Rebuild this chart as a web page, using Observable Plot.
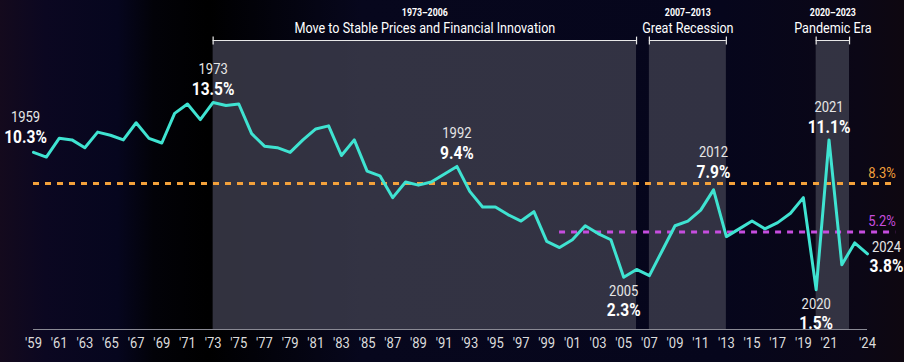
<!DOCTYPE html>
<html>
<head>
<meta charset="utf-8">
<script src="https://cdn.jsdelivr.net/npm/d3@7"></script>
<script src="https://cdn.jsdelivr.net/npm/@observablehq/plot@0.6"></script>
<style>
  html, body { margin: 0; padding: 0; background: #07061a; }
  #chart svg { display: block; }
</style>
</head>
<body>
<div id="chart"></div>
<script>
// ---- data ----
const years = d3.range(1959, 2025);
const savingRate = [
  10.3, 10.0, 11.2, 11.1, 10.6, 11.6, 11.4, 11.1, 12.2, 11.2,
  10.9, 12.8, 13.4, 12.4, 13.5, 13.3, 13.4, 11.5, 10.7, 10.6,
  10.3, 11.1, 11.8, 12.0, 10.1, 11.1, 9.1, 8.8, 7.4, 8.4,
  8.2, 8.4, 8.9, 9.4, 7.8, 6.8, 6.8, 6.3, 5.9, 6.5,
  4.6, 4.2, 4.7, 5.6, 5.1, 4.7, 2.3, 2.8, 2.4, 4.0,
  5.6, 5.9, 6.6, 7.9, 4.9, 5.4, 5.9, 5.4, 5.8, 6.4,
  7.4, 1.5, 11.1, 3.1, 4.5, 3.8
];

const periodStart = [1973, 2007, 2020];
const periodEnd = [2006, 2013, 2022.6];
const periodRange = ["1973–2006", "2007–2013", "2020–2023"];
const periodName = ["Move to Stable Prices and Financial Innovation", "Great Recession", "Pandemic Era"];

const avgValue = [8.3, 5.2];
const avgFrom = [1959, 2000];
const avgLabel = ["8.3%", "5.2%"];

const tickYears = [...d3.range(1959, 2022, 2), 2024];
const tickLabel = tickYears.map(y => "'" + String(y).slice(2));

const annAbove = [1973, 1992, 2021];
const annAboveHigh = [2012];
const annLeft = [1959];
const annBelow = [2005, 2020];
const annRight = [2024];

// ---- derived tables ----
const series = years.map((y, i) => ({year: y, value: savingRate[i]}));
const periods = periodStart.map((s, i) => ({start: s, end: periodEnd[i], range: periodRange[i], name: periodName[i]}));
const avgs = avgValue.map((v, i) => ({value: v, from: avgFrom[i], label: avgLabel[i]}));
const lookup = ys => ys.map(y => ({year: y, value: savingRate[years.indexOf(y)]}));

const yMin = -1.05, yMax = 17.47, xLineEnd = 2026.2;
const font = "'Roboto', 'Liberation Sans', sans-serif";
const condense = 0.84;

const avgColors = ["#f3a13b", "#c64ddf"];

const bracketTick = {draw(ctx, size) { const r = Math.sqrt(size); ctx.moveTo(0, -r); ctx.lineTo(0, r); }};

function annotate(data, dx, dyYear, dyVal) {
  return [
    Plot.text(data, {x: "year", y: "value", text: d => String(d.year), dx, dy: dyYear,
      fill: "#e6e6e6", fontSize: 15.5, fontWeight: 400}),
    Plot.text(data, {x: "year", y: "value", text: d => d.value.toFixed(1) + "%", dx, dy: dyVal,
      fill: "#ffffff", fontSize: 18.5, fontWeight: 700})
  ];
}

const chart = Plot.plot({
  width: 904,
  height: 362,
  marginLeft: 33,
  marginRight: 37,
  marginTop: 40,
  marginBottom: 33,
  style: {
    fontFamily: font,
    background: "linear-gradient(90deg, #140a1d 0%, #0b0721 5%, #06061e 13%, #020208 17%, #000 23%, #07071d 40%, #06061c 80%, #0b0716 95%, #0e0710 100%)",
    color: "#e0e0e0",
    overflow: "visible"
  },
  x: {domain: [1959, 2024], axis: null},
  y: {domain: [yMin, yMax], axis: null},
  marks: [
    Plot.rect(periods, {x1: "start", x2: "end", fill: "#3b3b4a", fillOpacity: 0.85}),
    Plot.ruleY(periods, {x1: "start", x2: "end", y: () => yMax, stroke: "#e8e8e8", strokeWidth: 1.2}),
    Plot.dot(periods.flatMap(p => [p.start, p.end]), {x: d => d, y: () => yMax, symbol: bracketTick, r: 2.2, stroke: "#e8e8e8", strokeWidth: 1.2, fill: "none"}),
    Plot.text(periods, {x: d => (d.start + d.end) / 2, frameAnchor: "top", lineAnchor: "middle", dy: -28, text: "range", fill: "#ffffff", fontSize: 10.5, fontWeight: 700}),
    Plot.text(periods, {x: d => (d.start + d.end) / 2, frameAnchor: "top", lineAnchor: "middle", dy: -12, text: "name", fill: "#ffffff", fontSize: 15}),
    Plot.ruleY([yMin], {stroke: "#8a8a94", strokeWidth: 1}),
    Plot.axisX({ticks: tickYears, tickFormat: d => tickLabel[tickYears.indexOf(d)], tickSize: 0, tickPadding: 7, fontSize: 15.5, color: "#dcdcdc"}),
    Plot.ruleY(avgs, {y: "value", x1: "from", x2: () => xLineEnd, stroke: d => avgColors[avgs.indexOf(d)], strokeWidth: 3, strokeDasharray: "6,6"}),
    Plot.text(avgs, {y: "value", x: () => xLineEnd, text: "label", textAnchor: "end", dy: -11, fill: d => avgColors[avgs.indexOf(d)], fontSize: 15.5}),
    Plot.line(series, {x: "year", y: "value", stroke: "#3fe3d1", strokeWidth: 3}),
    ...annotate(lookup(annAbove), 0, -33, -13),
    ...annotate(lookup(annAboveHigh), 0, -38, -18),
    ...annotate(lookup(annLeft), -8, -35, -15),
    ...annotate(lookup(annBelow), 0, 14, 33),
    ...annotate(lookup(annRight), 19, -7, 12)
  ]
});

// condense text horizontally to mimic a narrow typeface
chart.querySelectorAll("text").forEach(t => {
  const tr = t.getAttribute("transform");
  if (tr) {
    t.setAttribute("transform", tr + ` scale(${condense},1)`);
  } else {
    const x = +t.getAttribute("x") || 0;
    t.setAttribute("transform", `translate(${x},0) scale(${condense},1) translate(${-x},0)`);
  }
});

document.getElementById("chart").appendChild(chart);
</script>
</body>
</html>
